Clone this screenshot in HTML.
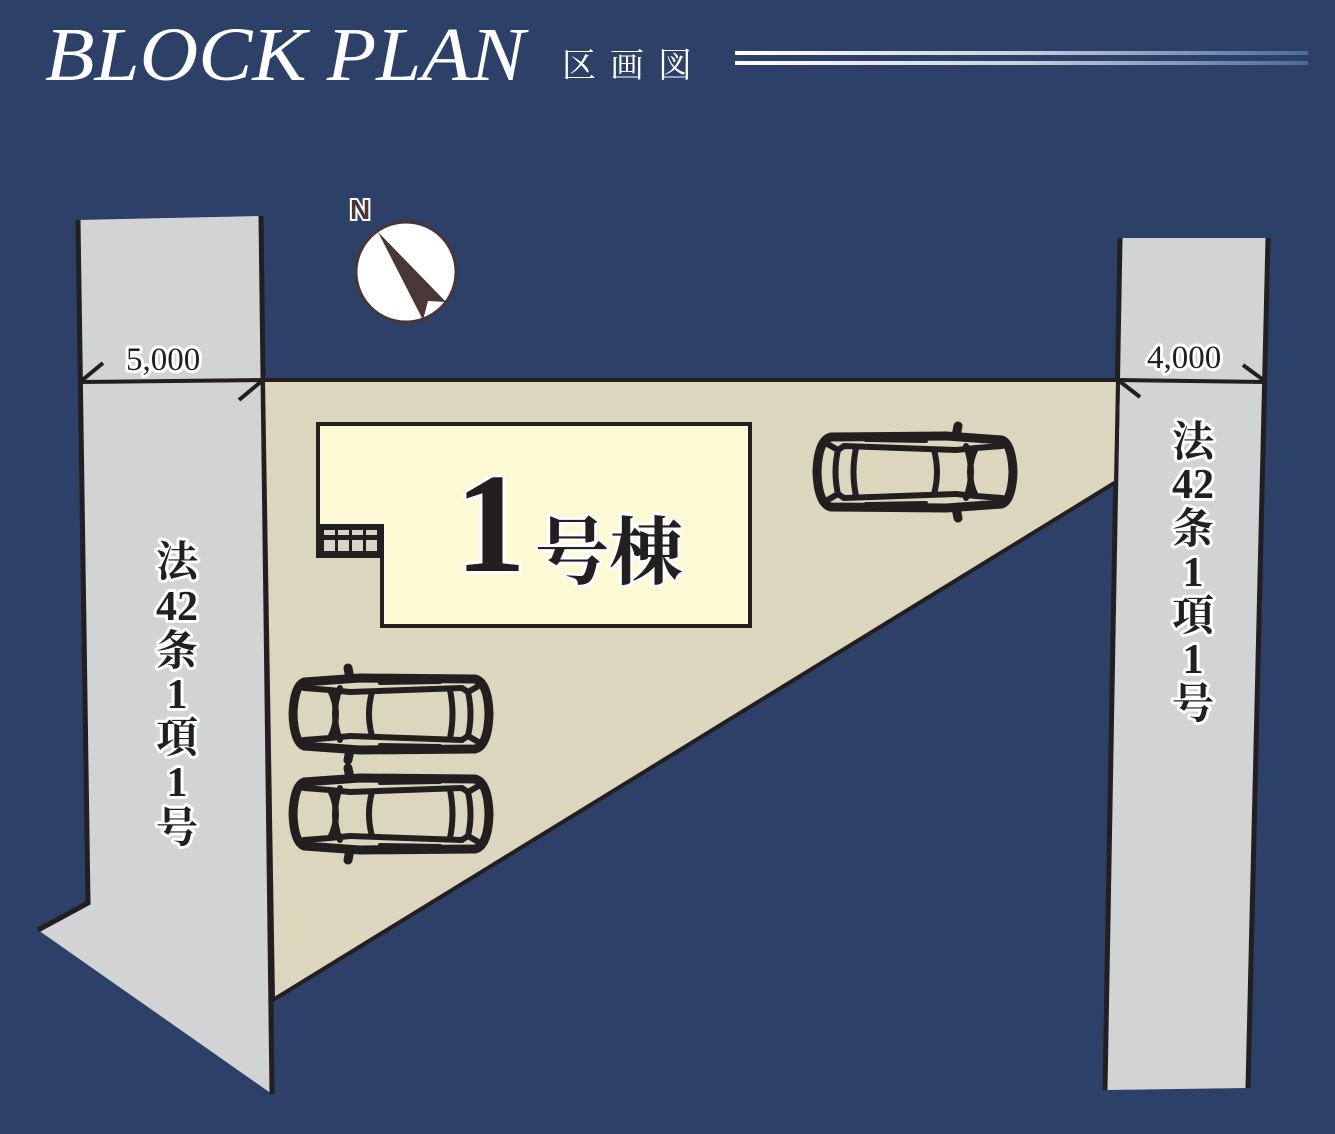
<!DOCTYPE html>
<html><head><meta charset="utf-8"><style>
html,body{margin:0;padding:0;background:#2c4068;}
svg{display:block}
</style></head><body>
<svg width="1335" height="1134" viewBox="0 0 1335 1134" xmlns="http://www.w3.org/2000/svg">
<defs>
<linearGradient id="lg" x1="0" x2="1" y1="0" y2="0">
<stop offset="0" stop-color="#ffffff"/><stop offset="0.5" stop-color="#c8cfe0"/><stop offset="1" stop-color="#4a6a9c"/>
</linearGradient>
<g id="car" fill="none" stroke="#231f20" stroke-width="6" stroke-linejoin="round" stroke-linecap="round">
<path d="M14,8 Q4,12 3,40 Q4,68 14,72 L70,76 L185,75 Q198,72 199,40 Q198,8 185,5 L70,4 Z" stroke-width="9"/>
<path d="M14,14 L40,16 Q52,40 40,64 L14,66"/>
<path d="M50,14 Q40,40 50,66"/>
<path d="M60,18 L172,14 L178,18 Q183,40 178,62 L172,66 L60,62"/>
<path d="M82,18 Q76,40 82,62"/>
<path d="M160,16 Q165,40 160,64"/>
<path d="M40,16 L60,18 M40,64 L60,62"/>
<path d="M178,18 L192,10 M178,62 L192,70"/>
<path d="M60,4 L58,-6 M60,76 L58,86" stroke-width="9"/>
<path d="M90,9 L150,8 M90,71 L150,72" stroke-width="4"/>
</g>
</defs>
<rect width="1335" height="1134" fill="#2c4068"/>
<!-- title -->
<text x="45" y="80" font-family="Liberation Serif, serif" font-style="italic" font-size="76" fill="#fff" textLength="480" lengthAdjust="spacingAndGlyphs">BLOCK PLAN</text>
<text x="562" y="77" font-family="Liberation Serif, 'Noto Serif CJK SC', serif" font-size="34" fill="#fff" letter-spacing="14">区画図</text>
<rect x="735" y="51" width="573" height="4" fill="url(#lg)"/>
<rect x="735" y="61" width="573" height="4" fill="url(#lg)"/>
<!-- left road -->
<polygon points="78,220 261,216 272,1094 38,930 88,903" fill="#d1d3d4"/>
<polyline points="78,220 88,903 38,930" fill="none" stroke="#231f20" stroke-width="5"/>
<line x1="261" y1="216" x2="272" y2="1094" stroke="#231f20" stroke-width="5"/>
<!-- right road -->
<polygon points="1120,238 1268,238 1248,1088 1105,1090" fill="#d1d3d4"/>
<line x1="1120" y1="238" x2="1105" y2="1090" stroke="#231f20" stroke-width="5"/>
<line x1="1268" y1="238" x2="1248" y2="1088" stroke="#231f20" stroke-width="5"/>
<!-- lot -->
<polygon points="263,380 1118,380 1116,482 273,1000" fill="#ddd6bf" stroke="#231f20" stroke-width="4" stroke-linejoin="round"/>
<!-- dimension lines -->
<g stroke="#231f20" stroke-width="4" fill="none">
<line x1="80" y1="382" x2="263" y2="380"/>
<line x1="80" y1="382" x2="103" y2="363"/>
<line x1="263" y1="380" x2="239" y2="400"/>
<line x1="1118" y1="380" x2="1266" y2="382"/>
<line x1="1118" y1="380" x2="1140" y2="397"/>
<line x1="1266" y1="382" x2="1243" y2="365"/>
</g>
<g font-family="Liberation Serif, serif" font-size="33" fill="#231f20" stroke="#fff" stroke-width="6" paint-order="stroke" stroke-linejoin="round">
<text x="126" y="370">5,000</text>
<text x="1147" y="368">4,000</text>
</g>
<!-- compass -->
<circle cx="406" cy="272" r="50" fill="#fff" stroke="#4a3537" stroke-width="3"/>
<polygon points="378,232 446,302 428,301 423,320" fill="#4a3537"/>
<text x="350" y="219" font-family="Liberation Sans, sans-serif" font-weight="bold" font-size="28" fill="#4a3537" stroke="#fff" stroke-width="4" paint-order="stroke">N</text>
<!-- house -->
<polygon points="318,424 750,424 750,626 382,626 382,556 318,556" fill="#fdf9d4" stroke="#231f20" stroke-width="4"/>
<rect x="318" y="524" width="66" height="33" fill="#231f20"/>
<g fill="#d8d4c8"><rect x="324" y="530" width="11" height="5"/><rect x="338" y="530" width="11" height="5"/><rect x="352" y="530" width="11" height="5"/><rect x="366" y="530" width="11" height="5"/>
<rect x="324" y="540" width="11" height="11"/><rect x="338" y="540" width="11" height="11"/><rect x="352" y="540" width="11" height="11"/><rect x="366" y="540" width="11" height="11"/></g>
<g fill="#231f20" stroke="#fff" stroke-width="6" paint-order="stroke" stroke-linejoin="round">
<text x="455" y="571" font-family="Liberation Serif, serif" font-weight="bold" font-size="142">1</text>
<text x="535" y="578" font-family="Liberation Serif, 'Noto Serif CJK SC', serif" font-weight="bold" font-size="74">号棟</text>
</g>
<!-- cars -->
<g transform="translate(1016,432) scale(-1,1)"><use href="#car"/></g>
<g transform="translate(290,674)"><use href="#car"/></g>
<g transform="translate(290,774)"><use href="#car"/></g>
<!-- road labels -->
<g font-family="Liberation Serif, 'Noto Serif CJK SC', serif" font-weight="bold" font-size="42" fill="#231f20" stroke="#fff" stroke-width="6" paint-order="stroke" stroke-linejoin="round" text-anchor="middle">
<text x="177" y="576">法</text><text x="177" y="620">42</text><text x="177" y="665">条</text><text x="177" y="708">1</text><text x="177" y="752">項</text><text x="177" y="796">1</text><text x="177" y="842">号</text>
<text x="1193" y="456">法</text><text x="1193" y="498">42</text><text x="1193" y="543">条</text><text x="1193" y="586">1</text><text x="1193" y="630">項</text><text x="1193" y="673">1</text><text x="1193" y="718">号</text>
</g>
</svg>
</body></html>
